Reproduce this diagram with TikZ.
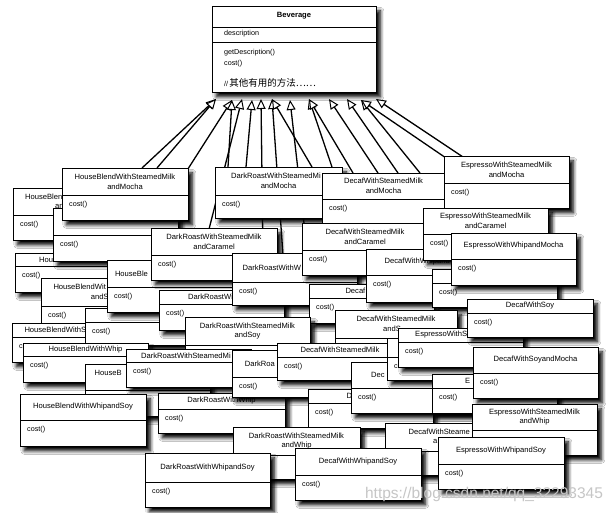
\documentclass[tikz,border=0pt]{standalone}
\usepackage{fontspec}
\setmainfont{Liberation Sans}
\newfontfamily\cjkfont{Noto Sans CJK SC}
\usetikzlibrary{arrows.meta,shadows.blur}
\tikzset{
 clsframe/.style={draw, fill=white, line width=0.75pt, anchor=north west, inner sep=0pt,
   blur shadow={shadow xshift=4pt, shadow yshift=-4.5pt, shadow blur radius=3.5pt, shadow blur steps=7, shadow opacity=100}},
 clsrule/.style={line width=0.75pt},
 clstitle/.style={inner sep=0pt, align=center, font=\fontsize{7.6}{9.8}\selectfont},
 clscut/.style={clstitle, anchor=west},
 clsop/.style={inner sep=0pt, anchor=west, font=\fontsize{7.2}{8}\selectfont},
 gen/.style={line width=1.3pt, -{Triangle[length=10pt,width=9pt,fill=white,line width=1pt]}},
}
% name, x, y, width, title height, height, title, body
\newcommand\clsbox[8]{%
  \node[clsframe, minimum width=#4pt, minimum height=#6pt] (#1) at (#2,#3) {};
  \draw[clsrule] (#2,{#3+#5}) -- ({#2+#4},{#3+#5});
  \node[clstitle] (#1-t) at ({#2+#4/2},{#3+#5/2}) {#7};
  \node[clsop] (#1-c) at ({#2+7},{#3+#5+10}) {#8};
}
\begin{document}
\begin{tikzpicture}[x=1pt,y=-1pt]
\fill[white] (0,0) rectangle (615,513);
\useasboundingbox (0,0) rectangle (615,513);

% superclass
\node[clsframe, minimum width=164pt, minimum height=86pt] (bev) at (212,6) {};
\draw[clsrule] (212,27) -- (376,27);
\draw[clsrule] (212,42) -- (376,42);
\node[clstitle, font=\bfseries\fontsize{7.6}{9}\selectfont] (bev-t) at (294,16) {Beverage};
\node[clsop] (bev-a) at (224,34) {description};
\node[clsop] (bev-m1) at (224,53) {getDescription()};
\node[clsop] (bev-m2) at (224,64) {cost()};
\node[clsop] (bev-m3) at (224,83) {//\,{\cjkfont\fontsize{9.5}{10}\selectfont 其他有用的方法……}};

% arrow tips
\coordinate (t1) at (216,99);
\coordinate (t2) at (232,100);
\coordinate (t3) at (242,99);
\coordinate (t4) at (252,100);
\coordinate (t5) at (261,99);
\coordinate (t6) at (272,99);
\coordinate (t7) at (290,100);
\coordinate (t8) at (309,99);
\coordinate (t9) at (329,99);
\coordinate (t10) at (347,99);
\coordinate (t11) at (361,100);
\coordinate (t12) at (376,99);
% line ends
\coordinate (e1) at (142,168);
\coordinate (e2) at (157,168);
\coordinate (e3) at (186,172);
\coordinate (e4) at (205,245);
\coordinate (e5) at (228,167);
\coordinate (e6) at (246,167);
\coordinate (e7) at (263,255);
\coordinate (e8) at (283,255);
\coordinate (e9) at (305,232);
\coordinate (e10) at (312,167);
\coordinate (e11) at (334,173);
\coordinate (e12) at (353,173);
\coordinate (e13) at (378,173);
\coordinate (e14) at (398,173);
\coordinate (e15) at (420,173);
\coordinate (e16) at (446,158);
\coordinate (e17) at (463,157);
\draw[gen] (e1) -- (t1);
\draw[gen] (e2) -- (t1);
\draw[gen] (e3) -- (t2);
\draw[gen] (e4) -- (t3);
\draw[gen] (e5) -- (t2);
\draw[gen] (e6) -- (t4);
\draw[gen] (e7) -- (t5);
\draw[gen] (e8) -- (t6);
\draw[gen] (e9) -- (t7);
\draw[gen] (e10) -- (t6);
\draw[gen] (e11) -- (t8);
\draw[gen] (e12) -- (t8);
\draw[gen] (e13) -- (t9);
\draw[gen] (e14) -- (t10);
\draw[gen] (e15) -- (t11);
\draw[gen] (e16) -- (t11);
\draw[gen] (e17) -- (t12);

% subclasses, back to front
\clsbox{B}{13}{188}{125}{27}{52}{}{cost()}
\node[clscut] (B-t1) at (25,196.6) {HouseBlen};
\node[clscut] (B-t2) at (55,206.4) {an};
\clsbox{F}{15}{253}{125}{13}{39}{}{cost()}
\node[clscut] (F-t1) at (39,259.5) {Hou};
\clsbox{C}{53}{208}{125}{27}{53}{}{cost()}
\clsbox{A}{62}{168}{126}{27}{52}{HouseBlendWithSteamedMilk\\andMocha}{cost()}
\clsbox{G}{41}{278}{125}{28}{52}{}{cost()}
\node[clscut] (G-t1) at (53.3,287.1) {HouseBlendWit};
\node[clscut] (G-t2) at (90.6,296.9) {andS};
\clsbox{I}{12}{323}{125}{14}{39}{}{c}
\node[clscut] (I-t1) at (24.3,330) {HouseBlendWithS};
\clsbox{H}{85}{308}{125}{14}{37}{}{cost()}
\clsbox{E}{107}{260}{125}{27}{52}{}{cost()}
\node[clscut] (E-t1) at (114.8,273.5) {HouseBle};
\clsbox{D}{151}{228}{126}{27}{52}{DarkRoastWithSteamedMilk\\andCaramel}{cost()}
\clsbox{L}{159}{290}{125}{14}{40}{}{cost()}
\node[clscut] (L-t1) at (188,297) {DarkRoastWi};
\clsbox{DRM}{215}{167}{127}{28}{51}{}{cost()}
\node[clscut] (DRM-t1) at (231,176.1) {DarkRoastWithSteamedMi};
\node[clstitle] (DRM-t2) at (278.5,185.9) {andMocha};
\clsbox{DCM}{322}{173}{123}{26}{50}{DecafWithSteamedMilk\\andMocha}{cost()}
\clsbox{ESM}{444}{156}{125}{27}{52}{EspressoWithSteamedMilk\\andMocha}{cost()}
\clsbox{M}{232}{253}{125}{29}{52}{}{cost()}
\node[clscut] (M-t1) at (242.5,267.5) {DarkRoastWithW};
\clsbox{AH}{309}{284}{125}{14}{39}{}{cost()}
\node[clscut] (AH-t1) at (345.3,291) {Decaf};
\clsbox{DCC}{302}{223}{126}{27}{52}{DecafWithSteamedMilk\\andCaramel}{cost()}
\clsbox{DWM}{366}{249}{125}{26}{53}{}{cost()}
\node[clscut] (DWM-t1) at (384.5,262) {DecafWithWhipand};
\clsbox{ESC}{423}{208}{125}{26}{52}{EspressoWithSteamedMilk\\andCaramel}{cost()}
\clsbox{AG}{432}{269}{125}{14}{38}{}{cost()}
\clsbox{EWM}{451}{233}{125}{26}{52}{EspressoWithWhipandMocha}{cost()}
\clsbox{J}{23}{343}{125}{13}{39}{HouseBlendWithWhip}{cost()}
\clsbox{R}{85}{364}{125}{26}{52}{}{}
\node[clscut] (R-t1) at (94.5,373) {HouseB};
\clsbox{N}{185}{317}{125}{28}{52}{DarkRoastWithSteamedMilk\\andSoy}{}
\clsbox{O}{126}{349}{125}{13}{38}{}{cost()}
\node[clscut] (O-t1) at (141,355.5) {DarkRoastWithSteamedMi};
\clsbox{U}{158}{393}{127}{16}{40}{DarkRoastWithWhip}{cost()}
\clsbox{T}{20}{394}{126}{26}{52}{HouseBlendWithWhipandSoy}{cost()}
\clsbox{P}{232}{350}{125}{27}{47}{}{cost()}
\node[clscut] (P-t1) at (244.7,363.5) {DarkRoa};
\clsbox{AI}{335}{310}{122}{28}{52}{}{}
\node[clstitle] (AI-t1) at (396,319.1) {DecafWithSteamedMilk};
\node[clscut] (AI-t2) at (383,328.9) {andS};
\clsbox{AJ}{277}{343}{126}{14}{37}{DecafWithSteamedMilk}{cost()}
\clsbox{AM}{308}{389}{125}{14}{39}{}{cost()}
\node[clscut] (AM-t1) at (346.5,396) {D};
\clsbox{AK}{351}{362}{125}{26}{51}{}{cost()}
\node[clscut] (AK-t1) at (371,375) {Dec};
\clsbox{AF}{387}{338}{125}{19}{42}{}{c}
\clsbox{AE}{398}{328}{125}{14}{39}{}{cost()}
\node[clscut] (AE-t1) at (415,335) {EspressoWithS};
\clsbox{AD}{467}{299}{126}{14}{38}{DecafWithSoy}{cost()}
\clsbox{AL}{432}{374}{125}{14}{39}{}{cost()}
\node[clscut] (AL-t1) at (465,381) {E};
\clsbox{AC}{473}{347}{125}{26}{51}{DecafWithSoyandMocha}{cost()}
\clsbox{W}{233}{427}{127}{28}{52}{DarkRoastWithSteamedMilk\\andWhip}{}
\clsbox{X}{145}{453}{125}{29}{54}{DarkRoastWithWhipandSoy}{cost()}
\clsbox{Z}{385}{423}{126}{28}{52}{}{}
\node[clscut] (Z-t1) at (408.5,432.1) {DecafWithSteame};
\node[clscut] (Z-t2) at (433,441.9) {a};
\clsbox{AB}{472}{404}{125}{26}{51}{EspressoWithSteamedMilk\\andWhip}{}
\clsbox{AA}{438}{437}{126}{27}{52}{EspressoWithWhipandSoy}{cost()}
\clsbox{Y}{295}{448}{126}{27}{52}{DecafWithWhipandSoy}{cost()}

% watermark
\node[inner sep=0pt, font=\fontsize{15.5}{16}\selectfont, text=gray!45] (wm) at (484,494) {https://blog.csdn.net/qq\_32293345};
\end{tikzpicture}
\end{document}
